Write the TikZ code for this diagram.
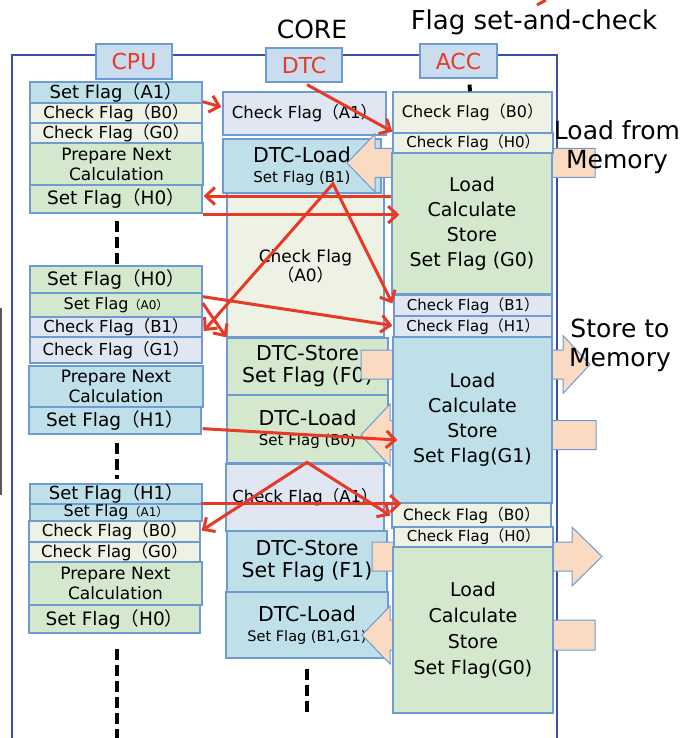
\documentclass[tikz,border=0pt]{standalone}
\usepackage{fontspec}
\setmainfont{DejaVu Sans}
\newfontfamily\cjk{Noto Sans CJK SC}
\usetikzlibrary{arrows.meta,fit,calc}

\definecolor{cyanf}{HTML}{BFE0E9}
\definecolor{greenf}{HTML}{D3E8CD}
\definecolor{creamf}{HTML}{EEF2E4}
\definecolor{greyf}{HTML}{E0E7F2}
\definecolor{labf}{HTML}{CADDEF}
\definecolor{boxline}{HTML}{6E9CD2}
\definecolor{framec}{HTML}{3A4FA8}
\definecolor{peach}{HTML}{FADBC2}
\definecolor{redc}{HTML}{E63A27}

% full-width parentheses
\newcommand\fwp[1]{{\cjk （}#1{\cjk ）}}
\newcommand\fs[2]{\fontsize{#1}{#2}\selectfont}
% a filled cell spanning (x1,y1)-(x2,y2) with centred text; optional font
\newcommand\cellbox[8][]{%
  \node[cell,fill=#7,fit={(#3,#4)(#5,#6)}] (#2) {};
  \node[txt,font=#1] (#2-t) at (#2.center) {#8};}
% block arrow: tip x, tip y, head base x, tail x, shaft half height, head half height
\newcommand\pointer[6]{%
  \draw[peachar] (#4,#2-#5) -- (#3,#2-#5) -- (#3,#2-#6) -- (#1,#2)
    -- (#3,#2+#6) -- (#3,#2+#5) -- (#4,#2+#5) -- cycle;}

\tikzset{
  cell/.style={draw=boxline, line width=1.3pt, inner sep=0pt},
  txt/.style={inner sep=0pt, align=center, text=black},
  peachar/.style={fill=peach, draw=boxline, line width=1pt, line join=miter},
  redar/.style={draw=redc, line width=3pt, line join=miter,
    -{Straight Barb[length=9pt,width=17pt]}},
  redtwo/.style={draw=redc, line width=3pt, line join=miter,
    {Straight Barb[length=9pt,width=17pt]}-{Straight Barb[length=9pt,width=17pt]}},
  lifeline/.style={draw=black, line width=4pt, dash pattern=on 11pt off 5pt},
  outtxt/.style={inner sep=0pt, align=center, text=black, font=\fs{25}{29}},
}

\begin{document}
\begin{tikzpicture}[x=1pt,y=-1pt]
\useasboundingbox (0,0) rectangle (693,738);
\fill[white] (0,0) rectangle (693,738);

% frame of the core
\draw[framec, line width=1.5pt] (12,738) -- (12,55) -- (557,55) -- (557,738);
\draw[gray!70!black, line width=1.6pt] (0.8,308) -- (0.8,495);

% column headings
\cellbox[\fs{22}{26}]{cpuL}{96}{44}{172}{79}{labf}{\color{redc}CPU}
\cellbox[\fs{22}{26}]{dtcL}{266}{48}{342}{82}{labf}{\color{redc}DTC}
\cellbox[\fs{22}{26}]{accL}{420}{44}{497}{78}{labf}{\color{redc}ACC}

% CPU column
\cellbox[\fs{18}{20}]{cA1}{30}{82}{202}{103}{cyanf}{Set Flag\fwp{A1}}
\cellbox[\fs{16.5}{18}]{cB0}{30}{103}{202}{123}{creamf}{Check Flag\fwp{B0}}
\cellbox[\fs{16.5}{18}]{cG0}{30}{123}{202}{143}{creamf}{Check Flag\fwp{G0}}
\cellbox[\fs{17}{20}]{cPrep1}{30}{143}{203}{185}{greenf}{Prepare Next\\Calculation}
\cellbox[\fs{18.5}{20}]{cH0}{30}{185}{202}{213}{greenf}{Set Flag\fwp{H0}}

\cellbox[\fs{18.5}{20}]{cH0b}{30}{266}{202}{293}{greenf}{Set Flag\fwp{H0}}
\cellbox[\fs{16}{18}]{cA0}{30}{293}{202}{317}{greenf}{Set Flag{\fs{12}{13}\fwp{A0}}}
\cellbox[\fs{16.5}{18}]{cB1}{30}{317}{202}{337}{greyf}{Check Flag\fwp{B1}}
\cellbox[\fs{16.5}{18}]{cG1}{30}{337}{202}{363}{greyf}{Check Flag\fwp{G1}}
\cellbox[\fs{17}{20}]{cPrep2}{29}{366}{203}{407}{cyanf}{Prepare Next\\Calculation}
\cellbox[\fs{18.5}{20}]{cH1}{29}{407}{201}{434}{cyanf}{Set Flag\fwp{H1}}

\cellbox[\fs{18}{20}]{cH1b}{30}{484}{202}{504}{cyanf}{Set Flag\fwp{H1}}
\cellbox[\fs{16}{18}]{cA1b}{30}{504}{202}{521}{cyanf}{Set Flag{\fs{12}{13}\fwp{A1}}}
\cellbox[\fs{16.5}{18}]{cB0b}{29}{521}{200}{542}{creamf}{Check Flag\fwp{B0}}
\cellbox[\fs{16.5}{18}]{cG0b}{29}{542}{200}{562}{creamf}{Check Flag\fwp{G0}}
\cellbox[\fs{17}{20}]{cPrep3}{29}{562}{202}{605}{greenf}{Prepare Next\\Calculation}
\cellbox[\fs{18.5}{20}]{cH0c}{29}{605}{200}{633}{greenf}{Set Flag\fwp{H0}}

% DTC column
\cellbox[\fs{16.5}{18}]{dA1}{223}{92}{386}{135}{greyf}{Check Flag\fwp{A1}}
\node[cell,fill=creamf,fit={(227,176)(384,337)}] (dA0) {};
\node[txt,font=\fs{17}{19}] (dA0-t) at ($(dA0.center)+(0,10)$) {Check Flag\\\fwp{A0}};
\cellbox[\fs{20.5}{20}]{dLoad1}{223}{139}{381}{193}{cyanf}{DTC-Load\\\fs{15}{18}Set Flag (B1)}
\cellbox[\fs{20.5}{22}]{dStore0}{227}{338}{388}{395}{greenf}{DTC-Store\\Set Flag (F0)}
\cellbox[\fs{20.5}{20}]{dLoad0}{227}{395}{388}{463}{greenf}{DTC-Load\\\fs{15}{18}Set Flag (B0)}
\cellbox[\fs{16.5}{18}]{dA1b}{226}{464}{384}{531}{greyf}{Check Flag\fwp{A1}}
\cellbox[\fs{20.5}{22}]{dStore1}{227}{531}{387}{592}{cyanf}{DTC-Store\\Set Flag (F1)}
\cellbox[\fs{20.5}{20}]{dLoad1b}{226}{592}{388}{658}{cyanf}{DTC-Load\\\fs{14.5}{18}Set Flag (B1,G1)}

% memory transfers
\pointer{347}{163}{375}{595}{14.5}{29}
\pointer{590}{364.5}{563}{361}{14.5}{29}
\pointer{361}{435}{390}{596}{14.5}{31}
\pointer{602}{556.5}{572}{372}{14.5}{29.5}
\pointer{362}{635}{390}{595}{15}{29}

% ACC column
\cellbox[\fs{16}{18}]{aB0}{393}{92}{552}{133}{creamf}{Check Flag\fwp{B0}}
\cellbox[\fs{15}{17}]{aH0}{393}{133}{553}{153}{creamf}{Check Flag\fwp{H0}}
\cellbox[\fs{19}{25}]{aG0}{392}{153}{552}{294}{greenf}{Load\\Calculate\\Store\\Set Flag (G0)}
\cellbox[\fs{15}{17}]{aB1}{394}{295}{552}{316}{greyf}{Check Flag\fwp{B1}}
\cellbox[\fs{15}{17}]{aH1}{394}{316}{552}{337}{greyf}{Check Flag\fwp{H1}}
\cellbox[\fs{19}{25}]{aG1}{393}{337}{552}{503}{cyanf}{Load\\Calculate\\Store\\Set Flag(G1)}
\cellbox[\fs{15.5}{18}]{aB0b}{392}{503}{551}{528}{creamf}{Check Flag\fwp{B0}}
\cellbox[\fs{15}{17}]{aH0b}{394}{527}{553}{547}{creamf}{Check Flag\fwp{H0}}
\cellbox[\fs{19}{26}]{aG0b}{393}{547}{553}{713}{greenf}{Load\\Calculate\\Store\\Set Flag(G0)}

% lifelines
\draw[lifeline] ($(cH0.south)+(1,7)$) -- ($(cH0b.north)+(1,-1)$);
\draw[lifeline] ($(cH1.south)+(2,8)$) -- ($(cH1b.north)+(1,-4)$);
\draw[lifeline] ($(cH0c.south)+(2,15)$) -- ($(cH0c.south)+(2,105)$);
\draw[lifeline] ($(dLoad1b.south)+(0,10)$) -- ($(dLoad1b.south)+(0,54)$);
\draw[draw=black, line width=4pt] ($(accL.south)+(11,6)$) -- ($(aB0.north)+(-2.5,0)$);

% flag set-and-check traffic
\draw[redar] ($(cA1.south east)+(0,-2)$) -- ($(dA1.west)+(-1,-6.5)$);
\draw[redar] ($(dtcL.south)+(3,2)$) -- ($(aB0.south west)+(0,-2)$);
\draw[redar] ($(cH0.east -| aG0.west)+(0,-3)$) -- ($(cH0.east)+(1,-3)$);
\draw[redar] ($(cH0.south east)+(0,1)$) -- ($(cH0.south east -| aG0.west)+(8,1)$);
\draw[redtwo] ($(cB1.east)+(1,4)$) -- ($(dLoad1.south)+(31,-10)$) -- ($(aB1.west)+(-1,-2)$);
\draw[redar] ($(cA0.east)+(0,-2)$) -- (dStore0.north west);
\draw[redar] ($(cH0b.south east)+(0,3)$) -- ($(aH1.west)+(-1,-1)$);
\draw[redar] ($(cH1.south east)+(1,-6)$) -- ($(aG1.west)+(5,20)$);
\draw[redtwo] ($(cB0b.east)+(1,-1)$) -- ($(dA1b.north)+(2,-1)$) -- ($(aB0b.west)+(-1,0)$);
\draw[redar] ($(cH1b.south east)+(-2,-1)$) -- ($(cH1b.south east -| aG1.west)+(9,-1)$);
\coordinate (offtop) at (546,0);
\draw[draw=redc, line width=3pt] (offtop) -- ($(offtop)+(-9,5)$);

% captions
\node[outtxt] (core) at (312,29) {CORE};
\node[outtxt,font=\fs{26}{29}] (fsc) at (534,22) {Flag set-and-check};
\node[outtxt] (lfm) at (617,147) {Load from\\Memory};
\node[outtxt] (stm) at (620,345) {Store to\\Memory};
\end{tikzpicture}
\end{document}
